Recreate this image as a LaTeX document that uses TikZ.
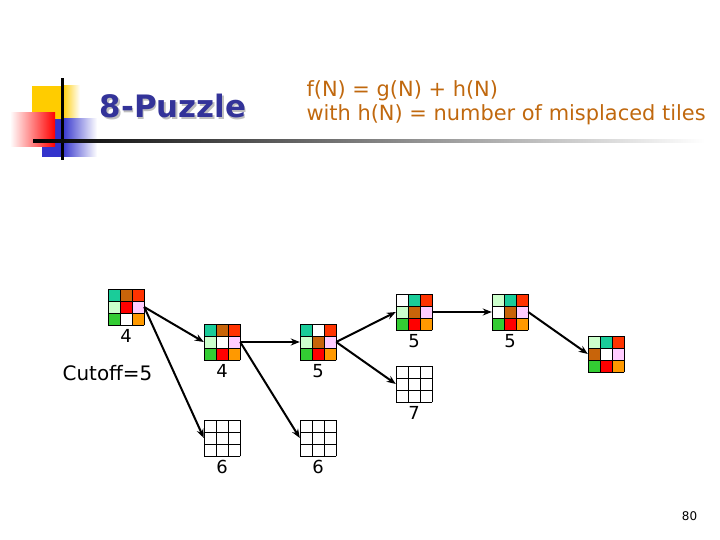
\documentclass[tikz,border=0pt]{standalone}
\usepackage{fontspec}
\setmainfont{DejaVu Sans}
\usetikzlibrary{arrows.meta,positioning}

\definecolor{tileteal}{HTML}{1ACC99}
\definecolor{tilebrown}{HTML}{C8640A}
\definecolor{tileorg}{HTML}{FF3300}
\definecolor{tilelight}{HTML}{CCFFCC}
\definecolor{tilered}{HTML}{FF0000}
\definecolor{tilepink}{HTML}{FFCCFF}
\definecolor{tilegreen}{HTML}{33CC33}
\definecolor{tileamber}{HTML}{FF9900}
\definecolor{headblue}{HTML}{333399}
\definecolor{headtext}{HTML}{C0680E}
\definecolor{decoyellow}{HTML}{FFCC00}
\definecolor{decoblue}{HTML}{3333CC}

% 3x3 board: name, top-left x, top-left y, nine tile colours
\newcommand{\puzzle}[4]{%
  \node[board] (#1) at (#2+18,#3+18) {};
  \foreach \c [count=\i from 0] in {#4} {
    \pgfmathtruncatemacro{\col}{mod(\i,3)}
    \pgfmathtruncatemacro{\row}{\i/3}
    \fill[\c] (#2+12*\col,#3+12*\row) rectangle ++(12,12);
  }
  \foreach \k in {0,12,24,36} {
    \draw[cell] (#2+\k,#3) -- ++(0,36);
    \draw[cell] (#2,#3+\k) -- ++(36,0);
  }
}

\begin{document}
\begin{tikzpicture}[x=1bp,y=-1bp,
    board/.style={minimum size=36bp,inner sep=0pt},
    cell/.style={line width=0.9bp,line cap=rect},
    val/.style={inner sep=0pt,font=\fontsize{18}{20}\selectfont},
    move/.style={line width=2bp,-{Stealth[length=9bp,width=7bp]}}]
  \useasboundingbox (0,0) rectangle (720,540);

  % title decoration
  \fill[decoyellow] (32,86) rectangle (62,119);
  \shade[left color=decoyellow,right color=white] (62,86) rectangle (80,119);
  \fill[decoblue] (42,119) rectangle (62,157);
  \shade[left color=decoblue,right color=white] (62,119) rectangle (97,157);
  \shade[left color=white,right color=tilered] (10,113) rectangle (55,147);
  \fill (61,78) rectangle (63.5,160);
  \shade[left color=black,right color=white] (33,139.8) rectangle (705,142.6);

  % headings
  \node[anchor=base,text=gray!50,font=\fontsize{31}{34}\bfseries] at (174.5,119.5) {8-Puzzle};
  \node[anchor=base,text=headblue,font=\fontsize{31}{34}\bfseries] at (173,118) {8-Puzzle};
  \node[anchor=base west,text=headtext,font=\fontsize{21}{24}\selectfont] at (303,97) {f(N) = g(N) + h(N)};
  \node[anchor=base west,text=headtext,font=\fontsize{21}{24}\selectfont] at (303,121) {with h(N) = number of misplaced tiles};

  % boards
  \puzzle{root}{108}{289}{tileteal,tilebrown,tileorg,tilelight,tilered,tilepink,tilegreen,white,tileamber}
  \puzzle{left}{204}{324}{tileteal,tilebrown,tileorg,tilelight,white,tilepink,tilegreen,tilered,tileamber}
  \puzzle{up}{300}{324}{tileteal,white,tileorg,tilelight,tilebrown,tilepink,tilegreen,tilered,tileamber}
  \puzzle{upup}{396}{294}{white,tileteal,tileorg,tilelight,tilebrown,tilepink,tilegreen,tilered,tileamber}
  \puzzle{down}{492}{294}{tilelight,tileteal,tileorg,white,tilebrown,tilepink,tilegreen,tilered,tileamber}
  \puzzle{goal}{588}{336}{tilelight,tileteal,tileorg,tilebrown,white,tilepink,tilegreen,tilered,tileamber}
  \puzzle{cutA}{204}{420}{white,white,white,white,white,white,white,white,white}
  \puzzle{cutB}{300}{420}{white,white,white,white,white,white,white,white,white}
  \puzzle{cutC}{396}{366}{white,white,white,white,white,white,white,white,white}

  % f values
  \node[val,below=4bp of root] {4};
  \node[val,below=4bp of left] {4};
  \node[val,below=4bp of up] {5};
  \node[val,below=4bp of upup] {5};
  \node[val,below=4bp of down] {5};
  \node[val,below=4bp of cutA] {6};
  \node[val,below=4bp of cutB] {6};
  \node[val,below=4bp of cutC] {7};
  \node[font=\fontsize{20}{24}\selectfont] (cutoff) at (107.5,373) {Cutoff=5};

  % moves
  \draw[move] (root.east) -- (left.west);
  \draw[move] (root.east) -- (cutA.west);
  \draw[move] (left.east) -- (up.west);
  \draw[move] (left.east) -- (cutB.west);
  \draw[move] (up.east) -- (upup.west);
  \draw[move] (up.east) -- (cutC.west);
  \draw[move] (upup.east) -- (down.west);
  \draw[move] (down.east) -- (goal.west);

  \node[font=\fontsize{12}{14}\selectfont] (page) at (689.5,516) {80};
\end{tikzpicture}
\end{document}
